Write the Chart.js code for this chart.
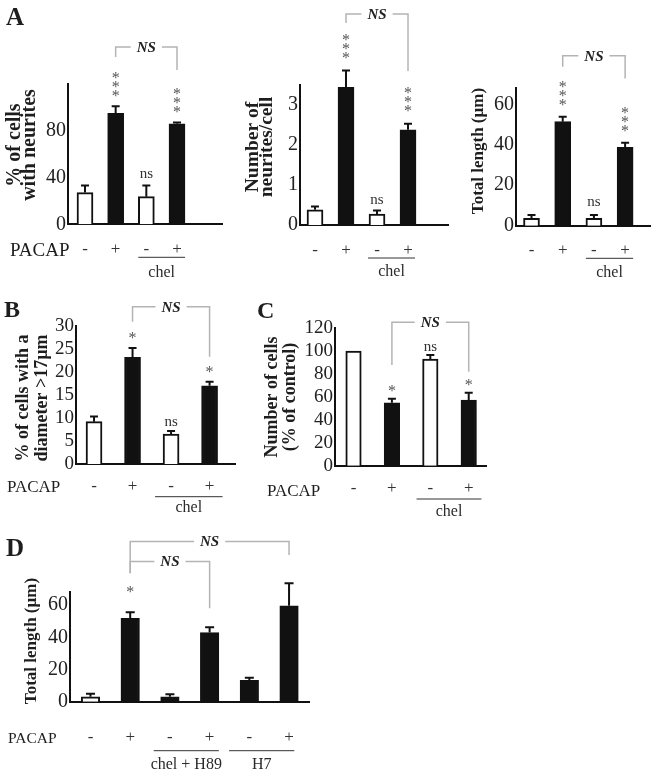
<!DOCTYPE html>
<html><head><meta charset="utf-8">
<script src="https://cdn.jsdelivr.net/npm/chart.js@4.4.1/dist/chart.umd.min.js"></script>
<style>
html,body{margin:0;padding:0;background:#fff;}
#wrap{position:relative;width:657px;height:776px;overflow:hidden;background:#fff;}
#wrap canvas{position:absolute;left:0;top:0;}
.t{position:absolute;font-family:'Liberation Serif',serif;color:#1e1e1e;line-height:1;white-space:nowrap;}
.b{font-weight:bold;}
</style></head><body>
<div id="wrap">
<canvas id="cA1" width="657" height="776"></canvas>
<canvas id="cA2" width="657" height="776"></canvas>
<canvas id="cA3" width="657" height="776"></canvas>
<canvas id="cB" width="657" height="776"></canvas>
<canvas id="cC" width="657" height="776"></canvas>
<canvas id="cD" width="657" height="776"></canvas>
</div>
<script>
// ---------- data ----------
const treatA = ['-', '+', '-', '+'];
const treatD = ['-', '+', '-', '+', '-', '+'];
const fillsA = ['#ffffff', '#111111', '#ffffff', '#111111'];
const fillsD = ['#ffffff', '#111111', '#111111', '#111111', '#111111', '#111111'];

const neuritePct = [27, 94.5, 23.5, 85.5];
const neuritePctErr = [6, 6, 9.5, 1.2];
const neuritesPerCell = [0.38, 3.44, 0.27, 2.38];
const neuritesPerCellErr = [0.08, 0.42, 0.09, 0.15];
const totalLengthA = [3.7, 51.4, 3.7, 38.7];
const totalLengthAErr = [1.6, 2.4, 1.6, 2.3];
const bigCellPct = [9.2, 23.2, 6.5, 17.0];
const bigCellPctErr = [1.1, 2.0, 0.7, 0.9];
const cellCount = [100, 55, 93.2, 57.4];
const cellCountErr = [0, 3.5, 3.5, 6.4];
const totalLengthD = [3.1, 51.8, 3.1, 42.9, 13.3, 59.6];
const totalLengthDErr = [1.9, 3.7, 1.5, 3.3, 1.6, 13.9];

const marksA = ['', '***', 'ns', '***'];
const marksBC = ['', '*', 'ns', '*'];
const marksD = ['', '*', '', '', '', ''];

const ticksA1 = [0, 40, 80];
const ticksA2 = [0, 1, 2, 3];
const ticksLen = [0, 20, 40, 60];
const ticksB = [0, 5, 10, 15, 20, 25, 30];
const ticksC = [0, 20, 40, 60, 80, 100, 120];

// ---------- drawing ----------
const W = 657, H = 776;
const FAM = '"Liberation Serif", "Times New Roman", serif';

function makeChart(id, s) {
  const pts = s.values.map((v, i) => ({x: i + 1, y: v}));
  const annot = {
    id: 'annot',
    afterLayout(chart) {
      // let the zero-size axes paint their labels outside the plot box
      chart.scales.y.left = 0;
      chart.scales.x.bottom = H;
    },
    afterDraw(chart) {
      const ctx = chart.ctx, X = chart.scales.x, Y = chart.scales.y;
      const px = v => X.getPixelForValue(v), py = v => Y.getPixelForValue(v);
      ctx.save();
      // error bars (upper half)
      ctx.strokeStyle = '#111'; ctx.lineWidth = 2;
      s.values.forEach((v, i) => {
        const e = s.errs[i]; if (!e) return;
        const cx = px(i + 1), y0 = py(v), y1 = py(v + e);
        ctx.beginPath();
        ctx.moveTo(cx, y0); ctx.lineTo(cx, y1);
        ctx.moveTo(cx - s.capW / 2, y1); ctx.lineTo(cx + s.capW / 2, y1);
        ctx.stroke();
      });
      // significance marks
      s.marks.forEach((m, i) => {
        if (!m) return;
        const cx = px(i + 1), top = py(s.values[i] + (s.errs[i] || 0));
        ctx.textAlign = 'center';
        if (m === 'ns') {
          ctx.fillStyle = '#333'; ctx.font = '15px ' + FAM; ctx.textBaseline = 'middle';
          ctx.fillText('ns', cx, top - s.nsGap);
        } else {
          ctx.fillStyle = '#555'; ctx.font = '16px ' + FAM; ctx.textBaseline = 'alphabetic';
          for (let k = 0; k < m.length; k++) {
            const cy = top - s.starGap - k * 9;
            ctx.fillText('*', cx, cy + 8.5);
          }
        }
      });
      // NS brackets
      s.brackets.forEach(b => {
        const xa = px(b.a), xb = px(b.b), yy = py(b.y);
        ctx.strokeStyle = '#b4b4b4'; ctx.lineWidth = 1.5;
        ctx.beginPath();
        ctx.moveTo(xa, py(b.dA)); ctx.lineTo(xa, yy); ctx.lineTo(xb, yy); ctx.lineTo(xb, py(b.dB));
        ctx.stroke();
        ctx.font = 'italic bold 15px ' + FAM;
        const tw = ctx.measureText('NS').width;
        const mx = (xa + xb) / 2;
        ctx.fillStyle = '#fff'; ctx.fillRect(mx - tw / 2 - 6, yy - 4, tw + 12, 8);
        ctx.fillStyle = '#222'; ctx.textAlign = 'center'; ctx.textBaseline = 'middle';
        ctx.fillText('NS', mx, yy + 1);
      });
      // treatment groups under the axis
      const base = Y.getPixelForValue(0);
      s.groups.forEach(g => {
        const x0 = px(g.from) - s.barW / 2 - g.padL, x1 = px(g.to) + s.barW / 2 + g.padR;
        ctx.strokeStyle = '#333'; ctx.lineWidth = 1;
        ctx.beginPath(); ctx.moveTo(x0, base + s.lineOff); ctx.lineTo(x1, base + s.lineOff); ctx.stroke();
        ctx.fillStyle = '#2a2a2a'; ctx.font = '16px ' + FAM; ctx.textAlign = 'center'; ctx.textBaseline = 'middle';
        ctx.fillText(g.label, (x0 + x1) / 2, base + s.textOff);
      });
      // y-axis title
      ctx.translate(s.title.cx, s.title.cy); ctx.rotate(-Math.PI / 2);
      ctx.fillStyle = '#1e1e1e'; ctx.font = 'bold ' + s.title.size + 'px ' + FAM;
      ctx.textAlign = 'center'; ctx.textBaseline = 'middle';
      const n = s.title.lines.length;
      s.title.lines.forEach((l, k) => ctx.fillText(l, 0, (k - (n - 1) / 2) * s.title.gap));
      ctx.restore();
    }
  };
  return new Chart(document.getElementById(id), {
    type: 'bar',
    data: {datasets: [{data: pts, backgroundColor: s.fills, borderColor: '#111', borderWidth: 2, barThickness: s.barW}]},
    options: {
      responsive: false, animation: false, events: [],
      layout: {padding: {left: s.area[0], top: s.area[1], right: W - s.area[2], bottom: H - s.area[3]}},
      plugins: {legend: {display: false}, tooltip: {enabled: false}},
      scales: {
        x: {
          type: 'linear', offset: false, min: s.xMin, max: s.xMax,
          grid: {display: false, drawTicks: false},
          border: {display: true, color: '#111', width: 2},
          ticks: {font: {family: FAM, size: 17}, color: '#333', padding: s.xPad, maxRotation: 0, autoSkip: false,
                  callback: v => s.treat[v - 1] || ''},
          afterBuildTicks: sc => { sc.ticks = s.treat.map((_, i) => ({value: i + 1})); },
          afterFit: sc => { sc.height = 0; }
        },
        y: {
          min: 0, max: s.yMax,
          grid: {display: false, drawTicks: false},
          border: {display: true, color: '#111', width: 2},
          ticks: {font: {family: FAM, size: s.tickSize}, color: '#222', padding: 2, autoSkip: false,
                  callback: v => String(v)},
          afterBuildTicks: sc => { sc.ticks = s.ticks.map(v => ({value: v})); },
          afterFit: sc => { sc.width = 0; }
        }
      }
    },
    plugins: [annot]
  });
}

makeChart('cA1', {
  values: neuritePct, errs: neuritePctErr, fills: fillsA, treat: treatA, ticks: ticksA1, marks: marksA,
  area: [68, 84, 222.7, 224.3], xMin: 0.446, xMax: 5.49, yMax: 119.4, barW: 16, capW: 8, tickSize: 20, xPad: 15,
  starGap: 14, nsGap: 11,
  brackets: [{a: 2, b: 4, y: 150.9, dA: 142.4, dB: 131.3}],
  groups: [{from: 3, to: 4, label: 'chel', padL: 0, padR: 0}], lineOff: 33, textOff: 48,
  title: {lines: ['% of cells', 'with neurites'], cx: 22, cy: 145, gap: 15, size: 20}
});
makeChart('cA2', {
  values: neuritesPerCell, errs: neuritesPerCellErr, fills: fillsA, treat: treatA, ticks: ticksA2, marks: marksA,
  area: [300, 85, 448, 225], xMin: 0.516, xMax: 5.29, yMax: 3.5, barW: 16, capW: 8, tickSize: 20, xPad: 15,
  starGap: 16, nsGap: 11,
  brackets: [{a: 2, b: 4, y: 5.275, dA: 5.05, dB: 3.85}],
  groups: [{from: 3, to: 4, label: 'chel', padL: 1, padR: -1}], lineOff: 33, textOff: 47,
  title: {lines: ['Number of', 'neurites/cell'], cx: 260, cy: 147, gap: 14, size: 19.5}
});
makeChart('cA3', {
  values: totalLengthA, errs: totalLengthAErr, fills: fillsA, treat: treatA, ticks: ticksLen, marks: marksA,
  area: [516, 88.3, 650.7, 225.7], xMin: 0.503, xMax: 4.82, yMax: 67.9, barW: 16, capW: 8, tickSize: 20, xPad: 15,
  starGap: 15.5, nsGap: 13,
  brackets: [{a: 2, b: 4, y: 83.95, dA: 78.5, dB: 72.8}],
  groups: [{from: 3, to: 4, label: 'chel', padL: 0, padR: 0}], lineOff: 32.6, textOff: 47,
  title: {lines: ['Total length (µm)'], cx: 479, cy: 151, gap: 14, size: 17}
});
makeChart('cB', {
  values: bigCellPct, errs: bigCellPctErr, fills: fillsA, treat: treatA, ticks: ticksB, marks: marksBC,
  area: [76, 326, 235, 464], xMin: 0.532, xMax: 4.66, yMax: 30, barW: 16, capW: 8, tickSize: 19, xPad: 12.5,
  starGap: 13.5, nsGap: 8.5,
  brackets: [{a: 2, b: 4, y: 34.2, dA: 30.9, dB: 23.3}],
  groups: [{from: 3, to: 4, label: 'chel', padL: 8, padR: 5}], lineOff: 32.7, textOff: 44,
  title: {lines: ['% of cells with a', 'diameter >17µm'], cx: 33, cy: 398, gap: 19, size: 18}
});
makeChart('cC', {
  values: cellCount, errs: cellCountErr, fills: fillsA, treat: treatA, ticks: ticksC, marks: marksBC,
  area: [335, 328.3, 486, 465.7], xMin: 0.518, xMax: 4.45, yMax: 120, barW: 15.5, capW: 8, tickSize: 19, xPad: 13,
  starGap: 11.5, nsGap: 8,
  brackets: [{a: 2, b: 4, y: 125.2, dA: 88, dB: 82.1}],
  groups: [{from: 3, to: 4, label: 'chel', padL: 6, padR: 5}], lineOff: 33.3, textOff: 46,
  title: {lines: ['Number of cells', '(% of control)'], cx: 281, cy: 397, gap: 18, size: 18}
});
makeChart('cD', {
  values: totalLengthD, errs: totalLengthDErr, fills: fillsD, treat: treatD, ticks: ticksLen, marks: marksD,
  area: [70, 591.7, 309.3, 701.7], xMin: 0.484, xMax: 6.51, yMax: 68.3, barW: 18.5, capW: 9, tickSize: 20, xPad: 25.4,
  starGap: 24, nsGap: 8,
  brackets: [{a: 2, b: 6, y: 99.4, dA: 79.8, dB: 91.1}, {a: 2, b: 4, y: 87, dA: 79.8, dB: 58}],
  groups: [{from: 3, to: 4, label: 'chel + H89', padL: 7, padR: 0}, {from: 5, to: 6, label: 'H7', padL: 11, padR: -4}],
  lineOff: 49, textOff: 63.3,
  title: {lines: ['Total length (µm)'], cx: 31.7, cy: 641, gap: 14, size: 17}
});

// ---------- panel letters and row labels ----------
function label(text, x, cy, size, bold) {
  const d = document.createElement('div');
  d.className = 't' + (bold ? ' b' : '');
  d.textContent = text;
  d.style.left = x + 'px';
  d.style.top = (cy - size * 0.5) + 'px';
  d.style.fontSize = size + 'px';
  document.getElementById('wrap').appendChild(d);
}
label('A', 6, 16.7, 25, true);
label('B', 4, 309.2, 24, true);
label('C', 257, 309.5, 24, true);
label('D', 6, 547.5, 25, true);
label('PACAP', 10, 249, 19, false);
label('PACAP', 7, 486.7, 17, false);
label('PACAP', 267, 490, 17, false);
label('PACAP', 8, 737.3, 15.5, false);
</script>
</body></html>
